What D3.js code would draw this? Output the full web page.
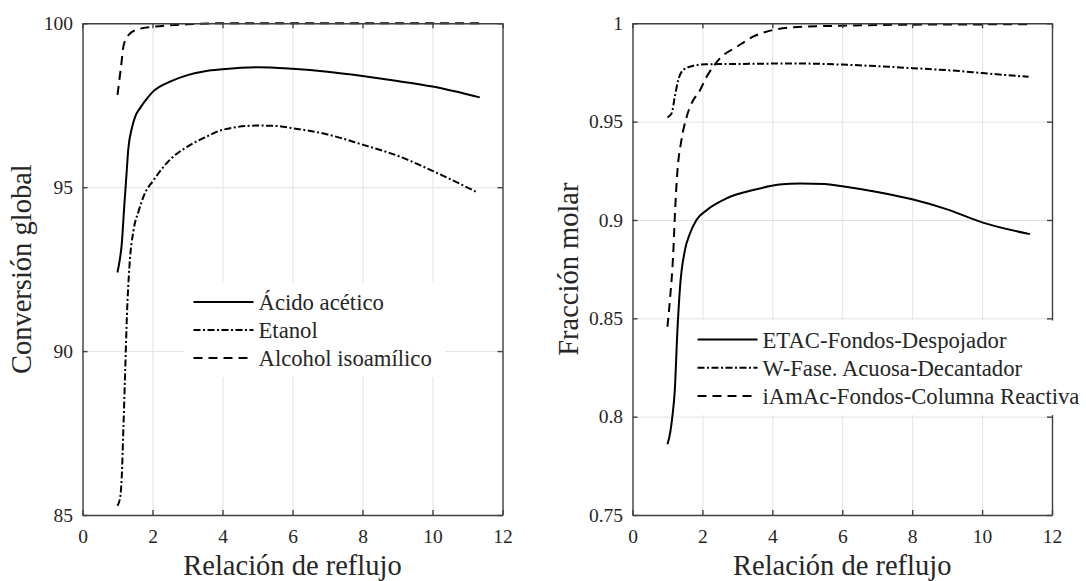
<!DOCTYPE html>
<html>
<head>
<meta charset="utf-8">
<script src="https://cdn.jsdelivr.net/npm/d3@7"></script>
<style>
  body { margin: 0; background: #fff; }
  svg { display: block; }
</style>
</head>
<body>
<svg id="chart" width="1086" height="581"></svg>
<script>
// ---- left panel: Conversión global ----
const xAcetico = [1.0, 1.06, 1.12, 1.19, 1.25, 1.31, 1.41, 1.5, 1.65, 1.84, 2.0, 2.5, 3.0, 3.5, 4.0, 5.0, 6.0, 7.0, 8.0, 9.0, 10.0, 11.35];
const yAcetico = [92.4, 92.75, 93.25, 94.37, 95.28, 96.18, 96.8, 97.14, 97.42, 97.7, 97.9, 98.22, 98.42, 98.54, 98.6, 98.66, 98.61, 98.52, 98.39, 98.24, 98.07, 97.74];

const xEtanol = [1.0, 1.08, 1.12, 1.17, 1.22, 1.27, 1.34, 1.46, 1.6, 1.79, 2.0, 2.5, 3.0, 3.5, 4.0, 5.0, 5.5, 6.0, 7.0, 8.0, 9.0, 10.0, 11.3];
const yEtanol = [85.28, 85.56, 86.13, 87.7, 89.4, 91.1, 92.57, 93.7, 94.26, 94.83, 95.17, 95.84, 96.24, 96.52, 96.75, 96.88, 96.87, 96.8, 96.61, 96.3, 95.96, 95.5, 94.83];

const xIsoamilico = [1.0, 1.1, 1.18, 1.35, 1.6, 2.0, 3.0, 4.0, 6.0, 11.35];
const yIsoamilico = [97.82, 98.67, 99.35, 99.68, 99.82, 99.89, 99.97, 100, 100, 100];

// ---- right panel: Fracción molar ----
const xEtac = [1.0, 1.08, 1.14, 1.21, 1.28, 1.36, 1.5, 1.64, 1.83, 2.12, 2.69, 3.45, 4.2, 4.8, 5.5, 6.0, 7.0, 8.0, 9.0, 10.0, 11.37];
const yEtac = [0.786, 0.792, 0.8, 0.8135, 0.842, 0.866, 0.8847, 0.893, 0.9, 0.905, 0.911, 0.9152, 0.918, 0.9186, 0.9183, 0.9171, 0.9142, 0.9105, 0.9054, 0.8988, 0.8928];

const xAgua = [1.0, 1.12, 1.21, 1.31, 1.45, 1.74, 2.12, 3.0, 4.0, 5.0, 6.0, 7.0, 8.0, 9.36, 10.0, 11.33];
const yAgua = [0.9522, 0.9542, 0.9627, 0.9712, 0.9762, 0.9784, 0.9792, 0.9793, 0.9795, 0.9795, 0.979, 0.9782, 0.9772, 0.9757, 0.9747, 0.9728];

const xIamac = [1.0, 1.07, 1.17, 1.21, 1.28, 1.4, 1.55, 1.74, 1.88, 2.12, 2.5, 2.98, 3.45, 4.02, 4.6, 6.0, 8.0, 11.35];
const yIamac = [0.8457, 0.8592, 0.8847, 0.9016, 0.9237, 0.9406, 0.9525, 0.961, 0.9644, 0.9728, 0.9822, 0.988, 0.9932, 0.9966, 0.998, 0.9988, 0.9993, 0.9995];

const xTicks = [0, 2, 4, 6, 8, 10, 12];
const yTicksLeft = [85, 90, 95, 100];
const yTickLabelsLeft = ["85", "90", "95", "100"];
const yTicksRight = [0.75, 0.8, 0.85, 0.9, 0.95, 1];
const yTickLabelsRight = ["0.75", "0.8", "0.85", "0.9", "0.95", "1"];

const legendLeft = ["Ácido acético", "Etanol", "Alcohol isoamílico"];
const legendRight = ["ETAC-Fondos-Despojador", "W-Fase. Acuosa-Decantador", "iAmAc-Fondos-Columna Reactiva"];

const serif = "'Liberation Serif', Tinos, 'Times New Roman', Times, 'DejaVu Serif', serif";
const ink = "#262626";
const dashes = { solid: null, dashdot: "7,2.5,2,2.5", dashed: "9,6" };

const svg = d3.select("#chart");

function zip(xs, ys) { return xs.map((d, i) => [d, ys[i]]); }

function panel(cfg) {
  const w = cfg.x1 - cfg.x0, h = cfg.y1 - cfg.y0;
  const g = svg.append("g").attr("transform", `translate(${cfg.x0},${cfg.y0})`);
  const x = d3.scaleLinear().domain([0, 12]).range([0, w]);
  const y = d3.scaleLinear().domain(cfg.yDomain).range([h, 0]);

  // grid
  g.append("g").attr("transform", `translate(0,${h})`)
    .call(d3.axisBottom(x).tickValues(xTicks).tickSize(-h).tickFormat(""))
    .call(s => s.select(".domain").remove())
    .call(s => s.selectAll("line").attr("stroke", "#e2e2e2").attr("stroke-width", 1));
  g.append("g")
    .call(d3.axisLeft(y).tickValues(cfg.yTicks).tickSize(-w).tickFormat(""))
    .call(s => s.select(".domain").remove())
    .call(s => s.selectAll("line").attr("stroke", "#e2e2e2").attr("stroke-width", 1));

  // curves
  const line = d3.line().x(d => x(d[0])).y(d => y(d[1])).curve(d3.curveMonotoneX);
  cfg.series.forEach(s => {
    g.append("path").datum(zip(s.x, s.y))
      .attr("fill", "none").attr("stroke", "#000").attr("stroke-width", 2)
      .attr("stroke-dasharray", dashes[s.style]).attr("d", line);
  });

  // frame with inward ticks
  const frame = g.append("g");
  const tick = 5;
  frame.append("g").attr("transform", `translate(0,${h})`).call(d3.axisBottom(x).tickValues(xTicks).tickSize(-tick).tickSizeOuter(0).tickFormat(""));
  frame.append("g").call(d3.axisTop(x).tickValues(xTicks).tickSize(-tick).tickSizeOuter(0).tickFormat(""));
  frame.append("g").call(d3.axisLeft(y).tickValues(cfg.yTicks).tickSize(-tick).tickSizeOuter(0).tickFormat(""));
  frame.append("g").attr("transform", `translate(${w},0)`).call(d3.axisRight(y).tickValues(cfg.yTicks).tickSize(-tick).tickSizeOuter(0).tickFormat(""));
  frame.selectAll(".domain, line").attr("stroke", "#404040").attr("stroke-width", 1.4);

  // tick labels
  g.append("g").attr("transform", `translate(0,${h})`)
    .call(d3.axisBottom(x).tickValues(xTicks).tickSize(0).tickPadding(14.5))
    .attr("font-family", serif).attr("font-size", 19.5)
    .call(s => s.select(".domain").remove())
    .call(s => s.selectAll("text").attr("fill", ink));
  g.append("g")
    .call(d3.axisLeft(y).tickValues(cfg.yTicks).tickSize(0).tickPadding(9.5).tickFormat((d, i) => cfg.yLabels[i]))
    .attr("font-family", serif).attr("font-size", 19.5)
    .call(s => s.select(".domain").remove())
    .call(s => s.selectAll("text").attr("fill", ink));

  // axis titles
  svg.append("text").attr("x", cfg.x0 + w / 2).attr("y", 575).attr("text-anchor", "middle")
    .attr("font-family", serif).attr("font-size", 28.5).attr("fill", ink).text("Relación de reflujo");
  svg.append("text").attr("transform", `translate(${cfg.yTitleX},${cfg.y0 + h / 2}) rotate(-90)`)
    .attr("text-anchor", "middle").attr("font-family", serif).attr("font-size", 28.5).attr("fill", ink).text(cfg.yTitle);

  // legend
  const lg = svg.append("g").attr("transform", `translate(${cfg.legend.x},${cfg.legend.y})`);
  lg.append("rect").attr("x", -10).attr("y", -19).attr("width", cfg.legend.w).attr("height", cfg.legend.step * 2 + 38).attr("fill", "#fff");
  cfg.series.forEach((s, i) => {
    const yy = i * cfg.legend.step;
    lg.append("line").attr("x1", 0).attr("x2", 60).attr("y1", yy).attr("y2", yy)
      .attr("stroke", "#000").attr("stroke-width", 2).attr("stroke-dasharray", dashes[s.style]);
    lg.append("text").attr("x", 65).attr("y", yy + 8).attr("font-family", serif)
      .attr("font-size", 22.7).attr("fill", ink).text(s.name);
  });
}

panel({
  x0: 82.5, x1: 502.5, y0: 23.3, y1: 515,
  yDomain: [85, 100], yTicks: yTicksLeft, yLabels: yTickLabelsLeft,
  yTitle: "Conversión global", yTitleX: 31,
  series: [
    { name: legendLeft[0], x: xAcetico, y: yAcetico, style: "solid" },
    { name: legendLeft[1], x: xEtanol, y: yEtanol, style: "dashdot" },
    { name: legendLeft[2], x: xIsoamilico, y: yIsoamilico, style: "dashed" }
  ],
  legend: { x: 193.5, y: 302, step: 28, w: 262 }
});

panel({
  x0: 632.5, x1: 1052, y0: 23.3, y1: 515,
  yDomain: [0.75, 1], yTicks: yTicksRight, yLabels: yTickLabelsRight,
  yTitle: "Fracción molar", yTitleX: 578,
  series: [
    { name: legendRight[0], x: xEtac, y: yEtac, style: "solid" },
    { name: legendRight[1], x: xAgua, y: yAgua, style: "dashdot" },
    { name: legendRight[2], x: xIamac, y: yIamac, style: "dashed" }
  ],
  legend: { x: 697.5, y: 339.5, step: 28.3, w: 398 }
});
</script>
</body>
</html>
